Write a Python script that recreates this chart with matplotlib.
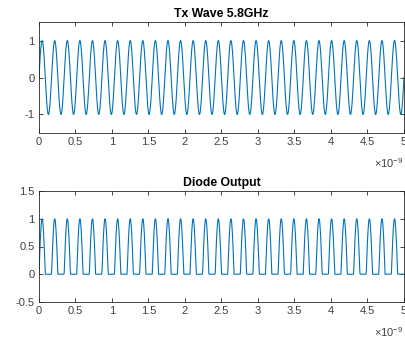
import numpy as np
import matplotlib.pyplot as plt

plt.rcParams['font.family'] = ['Liberation Sans', 'DejaVu Sans']
plt.rcParams['mathtext.fontset'] = 'custom'
plt.rcParams['mathtext.rm'] = 'Liberation Sans'

# signal parameters (from the title / axis range)
freq = 5.8e9
t_end = 5e-9
n_samples = 1200

t = np.linspace(0, t_end, n_samples)
tx_wave = np.sin(2 * np.pi * freq * t)
diode_out = np.maximum(tx_wave, 0)

xticks = [0, 0.5, 1, 1.5, 2, 2.5, 3, 3.5, 4, 4.5, 5]
line_color = '#0072BD'
axis_color = '#262626'

fig = plt.figure(figsize=(4.06, 3.40), dpi=100)
ax1 = fig.add_axes([0.096, 0.609, 0.899, 0.326])
ax2 = fig.add_axes([0.096, 0.112, 0.899, 0.326])


def style(ax, title, ylim, yticks):
    ax.set_xlim(0, t_end)
    ax.set_ylim(*ylim)
    ax.set_xticks([x * 1e-9 for x in xticks])
    ax.set_xticklabels([f'{x:g}' for x in xticks])
    ax.set_yticks(yticks)
    ax.set_yticklabels([f'{y:g}' for y in yticks])
    ax.tick_params(direction='in', length=3, width=0.6, labelsize=8,
                   colors=axis_color, labelcolor='#404040',
                   top=True, right=True, pad=3)
    for s in ax.spines.values():
        s.set_color(axis_color)
        s.set_linewidth(0.6)
    ax.set_title(title, fontsize=8.8, fontweight='bold', pad=4)
    ax.text(1.0, -0.27, r'$\times$10$^{-9}$', transform=ax.transAxes,
            ha='right', va='center', fontsize=8, color='#404040')


ax1.plot(t, tx_wave, color=line_color, lw=0.8)
style(ax1, 'Tx Wave 5.8GHz', (-1.5, 1.5), [-1, 0, 1])

ax2.plot(t, diode_out, color=line_color, lw=0.8)
style(ax2, 'Diode Output', (-0.5, 1.5), [-0.5, 0, 0.5, 1, 1.5])

fig.savefig('out.png', dpi=100)
